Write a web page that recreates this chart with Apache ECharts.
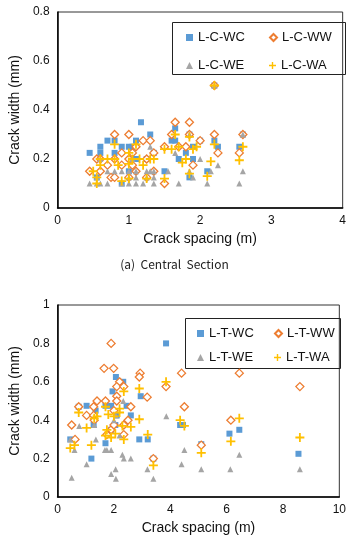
<!DOCTYPE html>
<html>
<head>
<meta charset="utf-8">
<script src="https://cdn.jsdelivr.net/npm/echarts@6/dist/echarts.min.js"></script>
<style>
  html, body { margin: 0; padding: 0; background: #fff; }
  #chart { width: 349px; height: 555px; }
</style>
</head>
<body>
<div id="chart"></div>
<script>
// (a) central section: [spacing m, width mm]
var cwc = [[0.45,0.225],[0.6,0.25],[0.6,0.225],[0.7,0.275],[0.8,0.275],[0.8,0.225],[0.9,0.25],[1.0,0.25],[1.05,0.25],
  [1.1,0.275],[1.17,0.35],[1.3,0.3],[1.5,0.15],[1.6,0.275],[1.65,0.275],[1.65,0.325],[1.7,0.2],[1.8,0.225],[1.85,0.3],
  [1.9,0.2],[1.9,0.25],[2.0,0.275],[2.2,0.275],[2.25,0.25],[2.55,0.25],[2.6,0.3],[2.1,0.15],[1.85,0.125],[0.9,0.1],
  [1.0,0.15],[0.55,0.125],[1.35,0.225],[1.1,0.2],[1.25,0.2],[2.2,0.5]]
var cww = [[0.45,0.15],[0.55,0.2],[0.6,0.15],[0.7,0.175],[0.75,0.125],[0.8,0.3],[0.8,0.2],[0.9,0.225],[0.9,0.175],
  [1.0,0.3],[1.0,0.2],[1.0,0.125],[1.05,0.225],[1.1,0.25],[1.2,0.275],[1.25,0.2],[1.25,0.125],[1.3,0.275],[1.35,0.15],
  [1.35,0.225],[1.5,0.1],[1.5,0.25],[1.6,0.3],[1.65,0.35],[1.7,0.25],[1.8,0.25],[1.85,0.35],[1.85,0.3],[1.9,0.175],
  [2.0,0.275],[2.2,0.3],[2.2,0.5],[2.25,0.225],[2.55,0.225],[2.6,0.3],[1.1,0.15],[0.6,0.2],[0.8,0.125],[1.05,0.175]]
var cwe = [[0.45,0.1],[0.55,0.1],[0.6,0.1],[0.7,0.1],[0.9,0.1],[1.0,0.1],[1.1,0.1],[1.2,0.1],[1.35,0.1],[1.7,0.1],
  [2.1,0.1],[2.55,0.1],[0.55,0.125],[0.7,0.15],[0.8,0.15],[0.9,0.15],[1.0,0.15],[1.1,0.15],[1.25,0.15],[1.3,0.15],
  [1.35,0.15],[1.55,0.15],[1.85,0.15],[2.15,0.15],[2.6,0.15],[1.0,0.125],[1.1,0.125],[1.25,0.125],[1.35,0.125],
  [1.9,0.125],[2.0,0.2],[2.25,0.175],[1.65,0.225],[1.85,0.3],[1.3,0.25],[2.6,0.3],[2.2,0.5],[0.6,0.2],[1.05,0.2]]
var cwa = [[0.5,0.15],[0.55,0.125],[0.55,0.1],[0.6,0.175],[0.6,0.2],[0.7,0.2],[0.8,0.26],[0.8,0.2],[0.85,0.175],
  [0.9,0.11],[1.0,0.18],[1.0,0.225],[1.05,0.2],[1.1,0.26],[1.15,0.2],[1.2,0.175],[1.3,0.2],[1.35,0.2],[1.5,0.12],
  [1.5,0.24],[1.6,0.24],[1.65,0.3],[1.7,0.25],[1.75,0.185],[1.8,0.2],[1.85,0.29],[1.85,0.14],[1.9,0.24],[1.95,0.25],
  [2.1,0.13],[2.15,0.19],[2.2,0.26],[2.2,0.5],[2.55,0.195],[2.6,0.25],[1.25,0.12],[1.0,0.12]]

// (b) second section
var twc = [[0.45,0.3],[0.75,0.47],[1.03,0.475],[1.35,0.45],[1.28,0.375],[1.2,0.2],[1.7,0.28],[1.7,0.475],[1.9,0.475],
  [2.05,0.375],[2.45,0.475],[2.6,0.425],[2.9,0.3],[3.2,0.3],[3.4,0.2],[4.35,0.375],[4.45,0.375],[5.1,0.275],[6.1,0.33],
  [6.45,0.35],[8.55,0.225],[1.9,0.35],[2.1,0.425],[2.07,0.625],[2.33,0.6],[2.95,0.525],[3.85,0.8],[1.95,0.55]]
var tww = [[1.9,0.8],[1.65,0.67],[1.99,0.67],[2.93,0.645],[2.9,0.625],[4.4,0.645],[6.45,0.645],[8.6,0.575],[3.85,0.575],
  [2.2,0.6],[2.1,0.575],[2.35,0.575],[2.1,0.525],[3.18,0.52],[1.4,0.5],[1.7,0.5],[2.1,0.5],[4.5,0.47],[2.6,0.47],
  [0.75,0.47],[1.28,0.47],[0.5,0.375],[0.62,0.3],[1.03,0.425],[1.28,0.425],[1.3,0.4],[1.75,0.325],[1.9,0.35],[2.0,0.375],
  [2.35,0.375],[2.35,0.325],[2.5,0.4],[3.4,0.2],[5.1,0.27],[6.15,0.4],[2.0,0.45]]
var twe = [[0.5,0.1],[0.6,0.245],[0.77,0.37],[1.03,0.17],[1.36,0.3],[1.68,0.245],[1.75,0.245],[1.9,0.245],[1.9,0.12],
  [2.06,0.145],[2.07,0.095],[2.3,0.22],[2.35,0.2],[2.6,0.2],[3.19,0.145],[3.4,0.095],[3.86,0.42],[4.4,0.17],[4.5,0.245],
  [5.1,0.145],[6.13,0.145],[6.45,0.22],[8.6,0.145],[1.3,0.375],[2.07,0.425],[2.2,0.32],[2.0,0.4],[2.33,0.5],[0.45,0.3]]
var twa = [[0.45,0.255],[0.6,0.27],[0.75,0.44],[1.03,0.36],[1.2,0.27],[1.3,0.41],[1.4,0.42],[1.7,0.47],[1.7,0.32],
  [1.75,0.35],[1.9,0.31],[2.0,0.42],[2.05,0.33],[2.3,0.37],[2.35,0.3],[2.6,0.365],[2.9,0.405],[3.2,0.325],[3.4,0.165],
  [4.35,0.4],[4.5,0.37],[5.1,0.23],[6.15,0.29],[6.45,0.41],[8.6,0.31],[1.8,0.43],[2.2,0.44],[2.9,0.565],[3.85,0.6],
  [2.35,0.55],[2.2,0.46]]

var xTicksTop = [0, 1, 2, 3, 4]
var yTicksTop = [0, 0.2, 0.4, 0.6, 0.8]
var xTicksBot = [0, 2, 4, 6, 8, 10]
var yTicksBot = [0, 0.2, 0.4, 0.6, 0.8, 1]

var font = 'Liberation Sans, Arial, sans-serif'
var plus = 'path://M4,0H6V4H10V6H6V10H4V6H0V4H4Z'

function styles(name, data, kind, idx) {
  var s = { name: name, type: 'scatter', data: data, xAxisIndex: idx, yAxisIndex: idx, z: 2 }
  if (kind === 'wc') { s.symbol = 'rect'; s.symbolSize = 6; s.itemStyle = { color: '#5B9BD5', opacity: 1 } }
  if (kind === 'ww') { s.symbol = 'diamond'; s.symbolSize = 8; s.itemStyle = { color: '#fff', borderColor: '#ED7D31', borderWidth: 1.3, opacity: 1 } }
  if (kind === 'we') { s.symbol = 'triangle'; s.symbolSize = 6; s.itemStyle = { color: '#A5A5A5', opacity: 1 } }
  if (kind === 'wa') { s.symbol = plus; s.symbolSize = 9; s.itemStyle = { color: '#FFC000', opacity: 1 } }
  return s
}

function axisX(ticks, gridIndex) {
  return {
    type: 'value', gridIndex: gridIndex, min: ticks[0], max: ticks[ticks.length - 1],
    interval: ticks[1] - ticks[0],
    name: 'Crack spacing (m)', nameLocation: 'middle', nameGap: 24,
    nameTextStyle: { fontFamily: font, fontSize: 14, color: '#111' },
    axisLine: { show: true, lineStyle: { color: '#000', width: 1.5 } },
    axisTick: { show: false }, splitLine: { show: false },
    axisLabel: { fontFamily: font, fontSize: 12, color: '#111', margin: 7 }
  }
}
function axisY(ticks, gridIndex) {
  return {
    type: 'value', gridIndex: gridIndex, min: ticks[0], max: ticks[ticks.length - 1],
    interval: ticks[1] - ticks[0],
    name: 'Crack width (mm)', nameLocation: 'middle', nameGap: 28,
    nameTextStyle: { fontFamily: font, fontSize: 14, color: '#111' },
    axisLine: { show: true, lineStyle: { color: '#000', width: 1.5 } },
    axisTick: { show: false }, splitLine: { show: false },
    axisLabel: { fontFamily: font, fontSize: 12, color: '#111', margin: 8 }
  }
}

var chart = echarts.init(document.getElementById('chart'), null, { renderer: 'canvas' })
chart.setOption({
  animation: false,
  backgroundColor: '#fff',
  grid: [
    { left: 47, top: 12, width: 298, height: 196, show: true, borderColor: '#333', borderWidth: 1 },
    { left: 47, top: 305, width: 297, height: 192, show: true, borderColor: '#333', borderWidth: 1 }
  ],
  xAxis: [axisX(xTicksTop, 0), axisX(xTicksBot, 1)],
  yAxis: [axisY(yTicksTop, 0), axisY(yTicksBot, 1)],
  legend: [
    {
      data: ['L-C-WC', 'L-C-WW', 'L-C-WE', 'L-C-WA'],
      left: 181, top: 25, width: 165, itemGap: 13, itemWidth: 7, itemHeight: 7,
      textStyle: { fontFamily: font, fontSize: 13, color: '#111', width: 58, lineHeight: 15 }
    },
    {
      data: ['L-T-WC', 'L-T-WW', 'L-T-WE', 'L-T-WA'],
      left: 192, top: 321, width: 150, itemGap: 9, itemWidth: 7, itemHeight: 7,
      textStyle: { fontFamily: font, fontSize: 13, color: '#111', width: 56, lineHeight: 15 }
    }
  ],
  graphic: [
    { type: 'rect', left: 170, top: 20, shape: { width: 173, height: 52 }, style: { fill: 'none', stroke: '#222', lineWidth: 1 }, z: 1 },
    { type: 'rect', left: 183, top: 316, shape: { width: 155, height: 50 }, style: { fill: 'none', stroke: '#222', lineWidth: 1 }, z: 1 },
    { type: 'text', left: 'center', top: 258, style: { text: '(a)  Central  Section', fontFamily: 'Noto Sans CJK KR, sans-serif', fontSize: 12, fill: '#222' } }
  ],
  series: [
    styles('L-C-WC', cwc, 'wc', 0), styles('L-C-WW', cww, 'ww', 0),
    styles('L-C-WE', cwe, 'we', 0), styles('L-C-WA', cwa, 'wa', 0),
    styles('L-T-WC', twc, 'wc', 1), styles('L-T-WW', tww, 'ww', 1),
    styles('L-T-WE', twe, 'we', 1), styles('L-T-WA', twa, 'wa', 1)
  ]
})
</script>
</body>
</html>
